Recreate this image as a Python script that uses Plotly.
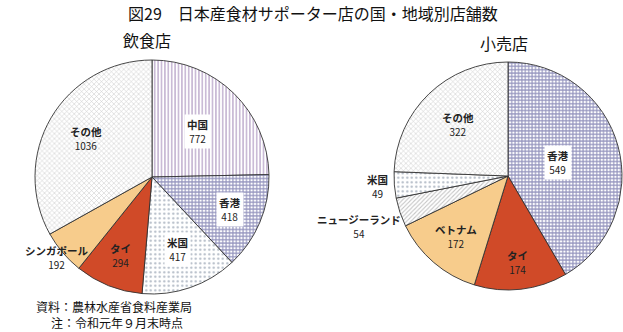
import math
import plotly.graph_objects as go

# 飲食店 (restaurants)
rest_labels = ["中国", "香港", "米国", "タイ", "シンガポール", "その他"]
rest_values = [772, 418, 417, 294, 192, 1036]

# 小売店 (retail shops)
shop_labels = ["香港", "タイ", "ベトナム", "ニュージーランド", "米国", "その他"]
shop_values = [549, 174, 172, 54, 49, 322]

title_text = "図29　日本産食材サポーター店の国・地域別店舗数"
sub_titles = ["飲食店", "小売店"]
notes = ["資料：農林水産省食料産業局", "注：令和元年９月末時点"]

W, H = 623, 332
FONT = "Noto Sans CJK JP, Noto Sans, sans-serif"

# fill style per country
STYLE = {
    "中国":       dict(shape="|", fg="#7a5599", bg="#ffffff", size=3.4, solid=0.4),
    "香港":       dict(shape="+", fg="#28287c", bg="#ffffff", size=3.4, solid=0.55),
    "米国":       dict(shape=".", fg="#5f7088", bg="#ffffff", size=4.5, solid=0.2),
    "タイ":       dict(shape="", fg="#d04a28", bg="#d04a28", size=4, solid=0.3),
    "シンガポール": dict(shape="", fg="#f7cc8c", bg="#f7cc8c", size=4, solid=0.3),
    "ベトナム":    dict(shape="", fg="#f7cc8c", bg="#f7cc8c", size=4, solid=0.3),
    "ニュージーランド": dict(shape="/", fg="#8a8a8a", bg="#ffffff", size=3, solid=0.35),
    "その他":      dict(shape="x", fg="#999999", bg="#ffffff", size=3.5, solid=0.3),
}

# pie geometry in pixels (centre x, centre y from top, radius)
PIES = [
    dict(cx=152, cy=177, r=117, labels=rest_labels, values=rest_values,
         frac=[0.55, 0.72, 0.66, 0.72, 1.06, 0.65],
         boxed=[True, True, True, False, False, False]),
    dict(cx=508, cy=176, r=114, labels=shop_labels, values=shop_values,
         frac=[0.45, 0.76, 0.70, 1.38, 1.15, 0.63],
         boxed=[True, False, False, False, False, False]),
]

fig = go.Figure()
annotations = []

for p in PIES:
    st = [STYLE[l] for l in p["labels"]]
    fig.add_trace(go.Pie(
        labels=p["labels"], values=p["values"], sort=False,
        direction="clockwise", rotation=0, textinfo="none",
        hoverinfo="label+value", showlegend=False,
        domain=dict(x=[(p["cx"] - p["r"]) / W, (p["cx"] + p["r"]) / W],
                    y=[(H - p["cy"] - p["r"]) / H, (H - p["cy"] + p["r"]) / H]),
        marker=dict(
            colors=[s["bg"] for s in st],
            line=dict(color="#333333", width=0.9),
            pattern=dict(shape=[s["shape"] for s in st],
                         fgcolor=[s["fg"] for s in st],
                         bgcolor=[s["bg"] for s in st],
                         size=[s["size"] for s in st],
                         solidity=[s["solid"] for s in st],
                         fillmode="overlay"),
        ),
    ))

    total = sum(p["values"])
    start = 0.0
    for lab, val, f, boxed in zip(p["labels"], p["values"], p["frac"], p["boxed"]):
        span = val / total * 360.0
        mid = math.radians(start + span / 2)
        start += span
        x_px = p["cx"] + f * p["r"] * math.sin(mid)
        y_px = p["cy"] - f * p["r"] * math.cos(mid)
        annotations.append(dict(
            x=x_px / W, y=1 - y_px / H, xref="paper", yref="paper",
            xanchor="center", yanchor="middle", showarrow=False,
            text=f"<b>{lab}</b><br><span style='font-size:10px'>{val}</span>",
            font=dict(family=FONT, size=10.5, color="#222222"),
            bgcolor="#ffffff" if boxed else "rgba(0,0,0,0)",
            borderpad=2, align="center",
        ))

# title, sub-titles, notes
annotations.append(dict(x=313 / W, y=1 - 13 / H, xref="paper", yref="paper",
                        text=title_text, showarrow=False, xanchor="center",
                        yanchor="middle",
                        font=dict(family=FONT, size=16, color="#111111")))
for txt, x_px, y_px in zip(sub_titles, [147, 504], [40, 43]):
    annotations.append(dict(x=x_px / W, y=1 - y_px / H, xref="paper", yref="paper",
                            text=txt, showarrow=False, xanchor="center",
                            yanchor="middle",
                            font=dict(family=FONT, size=16, color="#111111")))
for txt, x_px, y_px in zip(notes, [35, 50], [306, 322]):
    annotations.append(dict(x=x_px / W, y=1 - y_px / H, xref="paper", yref="paper",
                            text=txt, showarrow=False, xanchor="left",
                            yanchor="middle", borderpad=0,
                            font=dict(family=FONT, size=12, color="#111111")))

fig.update_layout(
    width=W, height=H, margin=dict(l=0, r=0, t=0, b=0),
    paper_bgcolor="#ffffff", plot_bgcolor="#ffffff",
    annotations=annotations,
)

fig.write_html("out.html")
